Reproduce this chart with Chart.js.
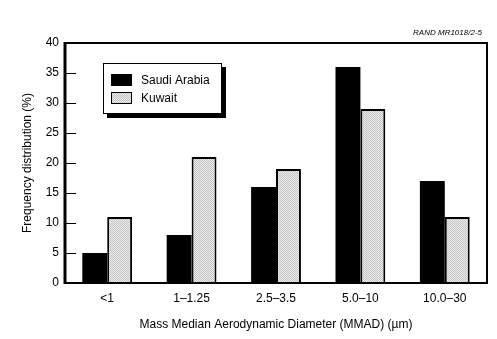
<!DOCTYPE html>
<html>
<head>
<meta charset="utf-8">
<script src="https://cdn.jsdelivr.net/npm/chart.js@4.4.1/dist/chart.umd.min.js"></script>
<style>
  html, body { margin: 0; padding: 0; background: #fff; }
  #wrap { width: 497px; height: 339px; }
</style>
</head>
<body>
<div id="wrap"><canvas id="freqChart" width="497" height="339"></canvas></div>
<script>
// Particle size classes (MMAD, µm)
const categories = ['<1', '1\u20131.25', '2.5\u20133.5', '5.0\u201310', '10.0\u201330'];
// Frequency distribution (%)
const saudiArabia = [5, 8, 16, 36, 17];
const kuwait = [11, 21, 19, 29, 11];
const yMin = 0;
const yMax = 40;
const yStep = 5;

const FONT = "'Liberation Sans', Arial, Helvetica, sans-serif";
Chart.defaults.font.family = FONT;
Chart.defaults.font.size = 12;
Chart.defaults.color = '#000';

// light gray stipple for the Kuwait bars
function makeStipple() {
    const c = document.createElement('canvas');
    c.width = 2; c.height = 2;
    const g = c.getContext('2d');
    g.fillStyle = '#ececec';
    g.fillRect(0, 0, 2, 2);
    g.fillStyle = '#c4c4c4';
    g.fillRect(0, 0, 1, 1);
    g.fillRect(1, 1, 1, 1);
    return g.createPattern(c, 'repeat');
}
const stipple = makeStipple();

// ── Frame, inward ticks, boxed legend, figure id ──────────────────────────
const framePlugin = {
    id: 'frame',
    afterDraw(chart) {
        const ctx = chart.ctx;
        const a = chart.chartArea;
        const y = chart.scales.y;
        ctx.save();
        ctx.strokeStyle = '#000';

        // top + right edges
        ctx.lineWidth = 2;
        ctx.beginPath();
        ctx.moveTo(a.left, a.top);
        ctx.lineTo(a.right, a.top);
        ctx.lineTo(a.right, a.bottom);
        ctx.stroke();
        // bottom
        ctx.beginPath();
        ctx.moveTo(a.left, a.bottom);
        ctx.lineTo(a.right + 1, a.bottom);
        ctx.stroke();
        // left axis (heavier)
        ctx.lineWidth = 3;
        ctx.beginPath();
        ctx.moveTo(a.left, a.top - 1);
        ctx.lineTo(a.left, a.bottom + 1);
        ctx.stroke();

        // tick marks pointing into the plot
        ctx.lineWidth = 1;
        y.ticks.forEach(t => {
            const py = Math.round(y.getPixelForValue(t.value)) + 0.5;
            if (t.value === yMin || t.value === yMax) return;
            ctx.beginPath();
            ctx.moveTo(a.left, py);
            ctx.lineTo(a.left + 11, py);
            ctx.stroke();
        });

        // legend box with drop shadow
        const bx = 103, by = 63, bw = 119, bh = 51;
        ctx.fillStyle = '#000';
        ctx.fillRect(bx + 4, by + 4, bw, bh);
        ctx.fillStyle = '#fff';
        ctx.fillRect(bx, by, bw, bh);
        ctx.lineWidth = 1;
        ctx.strokeRect(bx + 0.5, by + 0.5, bw - 1, bh - 1);

        chart.data.datasets.forEach((ds, i) => {
            const sy = 74 + i * 18;
            ctx.fillStyle = ds.backgroundColor;
            ctx.fillRect(111, sy, 21, 12);
            ctx.strokeStyle = '#000';
            ctx.strokeRect(111.5, sy + 0.5, 20, 11);
            ctx.fillStyle = '#000';
            ctx.font = '12px ' + FONT;
            ctx.textAlign = 'left';
            ctx.textBaseline = 'middle';
            ctx.fillText(ds.label, 141, sy + 6.5);
        });

        // figure id
        ctx.font = 'italic 8px ' + FONT;
        ctx.textAlign = 'right';
        ctx.textBaseline = 'middle';
        ctx.fillText('RAND MR1018/2-5', 482, 33);
        ctx.restore();
    }
};

new Chart(document.getElementById('freqChart'), {
    type: 'bar',
    data: {
        labels: categories,
        datasets: [
            {
                label: 'Saudi Arabia',
                data: saudiArabia,
                backgroundColor: '#000',
                borderColor: '#000',
                borderWidth: 0
            },
            {
                label: 'Kuwait',
                data: kuwait,
                backgroundColor: stipple,
                borderColor: '#000',
                borderWidth: 2,
                borderSkipped: 'bottom'
            }
        ]
    },
    options: {
        responsive: false,
        animation: false,
        devicePixelRatio: 1,
        layout: { padding: { left: 0, top: 43, right: 10, bottom: 0 } },
        datasets: { bar: { categoryPercentage: 0.59, barPercentage: 1.0 } },
        plugins: {
            legend: { display: false },
            tooltip: { enabled: false }
        },
        scales: {
            x: {
                grid: { display: false, drawTicks: false },
                border: { display: false },
                ticks: { padding: 8, maxRotation: 0, font: { size: 12 } },
                title: {
                    display: true,
                    text: 'Mass Median Aerodynamic Diameter (MMAD) (\u00b5m)',
                    font: { size: 12 },
                    padding: { top: 0, bottom: 7 }
                },
                afterFit(scale) { scale.height = 56; }
            },
            y: {
                min: yMin,
                max: yMax,
                grid: { display: false, drawTicks: false },
                border: { display: false },
                ticks: { stepSize: yStep, padding: 6, font: { size: 12 } },
                title: {
                    display: true,
                    text: 'Frequency distribution (%)',
                    font: { size: 12 },
                    padding: { top: 20, bottom: 0 }
                },
                afterFit(scale) { scale.width = 65; }
            }
        }
    },
    plugins: [framePlugin]
});
</script>
</body>
</html>
